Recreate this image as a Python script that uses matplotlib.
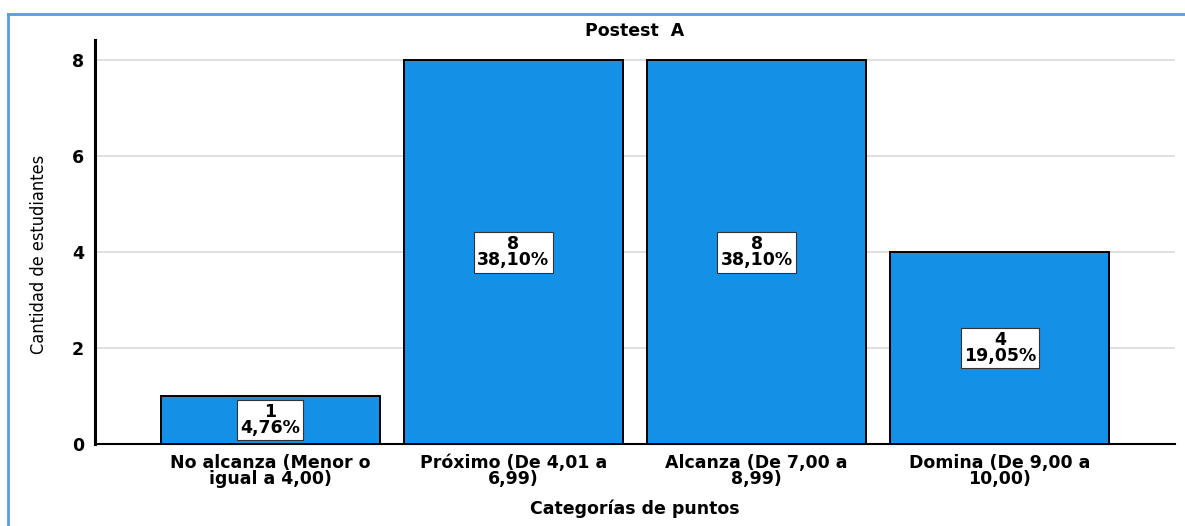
import matplotlib.pyplot as plt
from matplotlib.lines import Line2D

categories = ["No alcanza (Menor o\nigual a 4,00)",
              "Próximo (De 4,01 a\n6,99)",
              "Alcanza (De 7,00 a\n8,99)",
              "Domina (De 9,00 a\n10,00)"]
counts = [1, 8, 8, 4]
percents = ["4,76%", "38,10%", "38,10%", "19,05%"]
yticks = [0, 2, 4, 6, 8]

W, H = 1185, 526
fig = plt.figure(figsize=(W / 100, H / 100), dpi=100)
plt.rcParams['font.family'] = ['DejaVu Sans']
BOLD = dict(fontweight="bold", fontsize=12.5, fontstretch="normal")

# axes box in pixels: x 95..1175, y 40..444
ax = fig.add_axes([95 / W, 1 - 444 / H, (1175 - 95) / W, (444 - 40) / H])

x = list(range(len(categories)))
ax.bar(x, counts, width=0.9, color="#1490E6", edgecolor="black",
       linewidth=1.4, zorder=3)

# value + percentage boxes in the middle of each bar
for xi, c, p in zip(x, counts, percents):
    ax.text(xi, c / 2, f"{c}\n{p}", ha="center", va="center",
            linespacing=0.9, zorder=4, fontweight="bold", fontsize=12.5,
            fontstretch="normal",
            bbox=dict(boxstyle="square,pad=0.18", fc="white", ec="#333333",
                      lw=0.8))

ax.set_xlim(-0.72, 3.72)
ax.set_ylim(0, 8.42)
ax.set_yticks(yticks)
ax.set_yticklabels([str(t) for t in yticks], **BOLD)
ax.set_xticks(x)
ax.set_xticklabels(categories, linespacing=0.9, **BOLD)
ax.tick_params(axis="both", length=0)
ax.tick_params(axis="x", pad=7)
ax.tick_params(axis="y", pad=8)
ax.yaxis.grid(True, color="#dcdcdc", linewidth=1.3, zorder=0)
ax.set_axisbelow(True)

for side in ("top", "right"):
    ax.spines[side].set_visible(False)
ax.spines["left"].set_linewidth(2.2)
ax.spines["bottom"].set_linewidth(1.5)

ax.set_title("Postest  A", pad=1, **BOLD)
ax.set_xlabel("Categorías de puntos", labelpad=8, **BOLD)
ax.set_ylabel("Cantidad de estudiantes", fontsize=13,
              fontstretch="condensed")
ax.yaxis.set_label_coords(-47 / 1080, 0.47)

# outer blue frame lines (top and left)
fig.add_artist(Line2D([8 / W, 1], [1 - 14 / H, 1 - 14 / H],
                      color="#5B9BE0", lw=2, transform=fig.transFigure))
fig.add_artist(Line2D([8 / W, 8 / W], [0, 1 - 14 / H],
                      color="#5B9BE0", lw=2, transform=fig.transFigure))

fig.savefig("out.png", dpi=100)
